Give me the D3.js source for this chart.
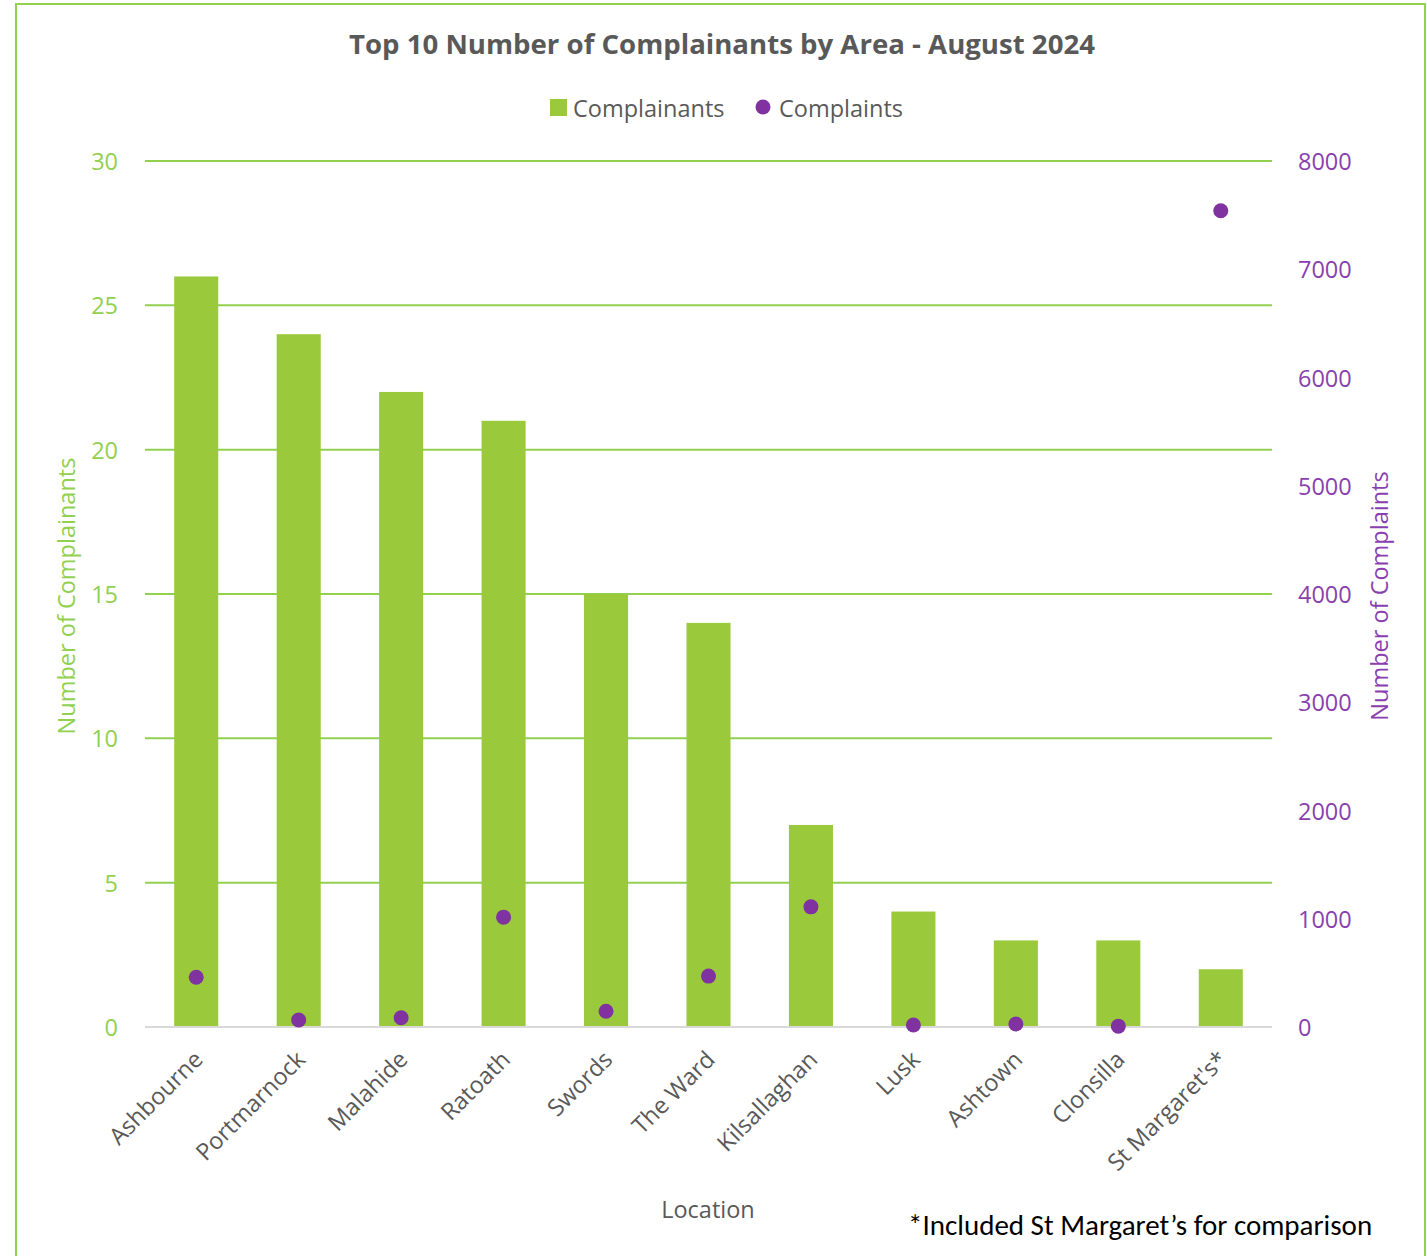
<!DOCTYPE html>
<html>
<head>
<meta charset="utf-8">
<script src="https://cdn.jsdelivr.net/npm/d3@7"></script>
<style>
  html, body { margin: 0; padding: 0; background: #fff; }
  svg { display: block; }
</style>
</head>
<body>
<svg id="chart" width="1427" height="1256"></svg>
<script>
// Data
const locations = ["Ashbourne", "Portmarnock", "Malahide", "Ratoath", "Swords", "The Ward",
    "Kilsallaghan", "Lusk", "Ashtown", "Clonsilla", "St Margaret's*"];
const complainants = [26, 24, 22, 21, 15, 14, 7, 4, 3, 3, 2];
const complaints = [460, 65, 85, 1015, 145, 470, 1110, 18, 28, 8, 7540];
const leftTicks = [0, 5, 10, 15, 20, 25, 30];
const rightTicks = [0, 1000, 2000, 3000, 4000, 5000, 6000, 7000, 8000];

const GREEN = "#9aca3c", GRID = "#92d050", PURPLE = "#7f32a0", PURPLE_TXT = "#8a3fb0", GREY = "#595959";
const FONT = "'Open Sans', 'Noto Sans', sans-serif";
const FS = 23.5;

const svg = d3.select("#chart");
const m = { left: 145, right: 1272, top: 161, bottom: 1027 };

// Frame
svg.append("rect")
    .attr("x", 16).attr("y", 4).attr("width", 1409).attr("height", 1270)
    .attr("fill", "none").attr("stroke", GRID).attr("stroke-width", 2);

const x = d3.scaleBand().domain(locations).range([m.left, m.right]).paddingInner(0.57).paddingOuter(0.285);
const yL = d3.scaleLinear().domain([0, 30]).range([m.bottom, m.top]);
const yR = d3.scaleLinear().domain([0, 8000]).range([m.bottom, m.top]);

// Gridlines
svg.append("g").selectAll("line").data(leftTicks.filter(d => d > 0)).join("line")
    .attr("x1", m.left).attr("x2", m.right)
    .attr("y1", d => yL(d)).attr("y2", d => yL(d))
    .attr("stroke", GRID).attr("stroke-width", 2);

// Bars
svg.append("g").selectAll("rect").data(locations).join("rect")
    .attr("x", d => x(d))
    .attr("y", (d, i) => yL(complainants[i]))
    .attr("width", x.bandwidth())
    .attr("height", (d, i) => m.bottom - yL(complainants[i]))
    .attr("fill", GREEN);

// Baseline
svg.append("line")
    .attr("x1", m.left).attr("x2", m.right).attr("y1", m.bottom).attr("y2", m.bottom)
    .attr("stroke", "#d9d9d9").attr("stroke-width", 2);

// Points
svg.append("g").selectAll("circle").data(locations).join("circle")
    .attr("cx", d => x(d) + x.bandwidth() / 2)
    .attr("cy", (d, i) => yR(complaints[i]))
    .attr("r", 7.5)
    .attr("fill", PURPLE);

// Left axis labels
svg.append("g").selectAll("text").data(leftTicks).join("text")
    .attr("x", 118).attr("y", d => yL(d))
    .attr("text-anchor", "end").attr("dominant-baseline", "central")
    .attr("font-family", FONT).attr("font-size", FS).attr("fill", GRID)
    .text(d => d);

// Right axis labels
svg.append("g").selectAll("text").data(rightTicks).join("text")
    .attr("x", 1298).attr("y", d => yR(d))
    .attr("text-anchor", "start").attr("dominant-baseline", "central")
    .attr("font-family", FONT).attr("font-size", FS).attr("fill", PURPLE_TXT)
    .text(d => d);

// X labels
svg.append("g").selectAll("text").data(locations).join("text")
    .attr("transform", d => `translate(${x(d) + x.bandwidth() / 2 + 8},${m.bottom + 34}) rotate(-45)`)
    .attr("text-anchor", "end")
    .attr("font-family", FONT).attr("font-size", FS).attr("fill", GREY)
    .text(d => d);

// Axis titles
svg.append("text")
    .attr("transform", `translate(75,596) rotate(-90)`)
    .attr("text-anchor", "middle")
    .attr("font-family", FONT).attr("font-size", FS).attr("fill", GRID)
    .text("Number of Complainants");
svg.append("text")
    .attr("transform", `translate(1388,596) rotate(-90)`)
    .attr("text-anchor", "middle")
    .attr("font-family", FONT).attr("font-size", FS).attr("fill", PURPLE_TXT)
    .text("Number of Complaints");
svg.append("text")
    .attr("x", 708).attr("y", 1218)
    .attr("text-anchor", "middle")
    .attr("font-family", FONT).attr("font-size", FS).attr("fill", GREY)
    .text("Location");

// Title
svg.append("text")
    .attr("x", 722).attr("y", 54)
    .attr("text-anchor", "middle")
    .attr("font-family", FONT).attr("font-size", 27.6).attr("font-weight", "bold").attr("fill", GREY)
    .text("Top 10 Number of Complainants by Area - August 2024");

// Legend
const lg = svg.append("g");
lg.append("rect").attr("x", 550).attr("y", 99).attr("width", 17).attr("height", 17).attr("fill", GREEN);
lg.append("text").attr("x", 573).attr("y", 108).attr("dominant-baseline", "central")
    .attr("font-family", FONT).attr("font-size", FS).attr("fill", GREY).text("Complainants");
lg.append("circle").attr("cx", 763).attr("cy", 107).attr("r", 7.5).attr("fill", PURPLE);
lg.append("text").attr("x", 779).attr("y", 108).attr("dominant-baseline", "central")
    .attr("font-family", FONT).attr("font-size", FS).attr("fill", GREY).text("Complaints");

// Footnote
svg.append("text")
    .attr("x", 908).attr("y", 1235)
    .attr("font-family", "Carlito, 'Noto Sans', sans-serif").attr("font-size", 29).attr("fill", "#000")
    .text("*Included St Margaret\u2019s for comparison");
</script>
</body>
</html>
